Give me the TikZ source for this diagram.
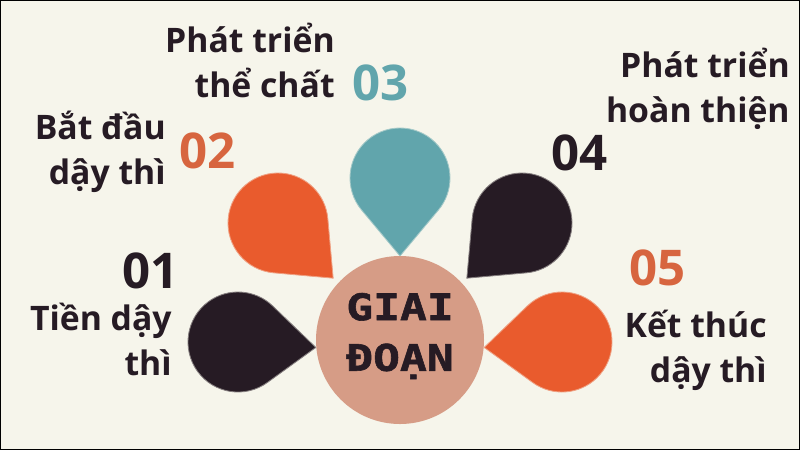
\documentclass[tikz,border=0pt]{standalone}
\usepackage{fontspec}
\setmainfont{Open Sans}
\newfontfamily\hubfont{DejaVu Sans Mono}[FakeStretch=1.22, FakeBold=1.6]
\usetikzlibrary
  {
    positioning, % place nodes relative to other nodes
    calc,
  }

\definecolor{paper}{HTML}{F6F5EB}
\definecolor{ink}{HTML}{261B24}
\definecolor{flame}{HTML}{E95B2D}
\definecolor{rust}{HTML}{D7653F}
\definecolor{sea}{HTML}{61A5AC}
\definecolor{salmon}{HTML}{D69C86}

\begin{document}
\begin{tikzpicture}
    [
      x=0.025cm, y=-0.025cm,
      petal/.style=
        {
          fill=#1,
          draw=#1!55!paper,
          line width=0.6pt,
        },
      stage/.style=
        {
          font=\bfseries\fontsize{24}{32}\selectfont,
          text=ink,
          align=right,
          anchor=base east,
          inner sep=0pt,
        },
      number/.style=
        {
          font=\bfseries\fontsize{35}{35}\selectfont,
          text=#1,
          anchor=base west,
          inner sep=0pt,
        },
      hub/.style=
        {
          circle,
          fill=salmon,
          minimum size=168*0.025cm,
          inner sep=0pt,
          text=ink,
          align=center,
          font=\hubfont\bfseries\fontsize{26}{40}\selectfont,
        }
    ]
    % background and frame
    \useasboundingbox (0,0) rectangle (800,450);
    \fill [paper] (0,0) rectangle (800,450);
    \draw [black, line width=1pt] (0.7,0.7) rectangle (799.3,449.3);

    % petals: centre x / centre y / direction of the tip / colour
    \foreach \cx/\cy/\dir/\col in
      {
        238/342/4/ink,
        278/223/45/flame,
        400/178/90/sea,
        522/223/135/ink,
        562/342/176/flame%
      }
      {
        \draw [petal=\col] (\cx,\cy) ++(\dir:78)
          -- ($(\cx,\cy)+(\dir+50:50)$)
          arc [start angle=\dir+50, end angle=\dir+310, radius=50]
          -- cycle;
      }

    \node (centre) [hub] at (400,340) {};
    \node (word) [hub, fill=none, minimum size=0pt] at (400,336) {GIAI\\[-4pt]ĐOẠN};

    % labels (anchored on the baseline of the last line)
    \node (lab01) [stage] at (172,375) {Tiền dậy\\thì};
    \node (lab02) [stage] at (166,184) {Bắt đầu\\dậy thì};
    \node (lab03) [stage] at (335,97) {Phát triển\\thể chất};
    \node (lab04) [stage] at (790,122) {Phát triển\\hoàn thiện};
    \node (lab05) [stage] at (767,382) {Kết thúc\\dậy thì};

    % numbers
    \node (num01) [number=ink] at (122,288) {01};
    \node (num02) [number=rust] at (179,168) {02};
    \node (num03) [number=sea] at (352,100) {03};
    \node (num04) [number=ink] at (551,170) {04};
    \node (num05) [number=rust] at (629,285) {05};
  \end{tikzpicture}
\end{document}
